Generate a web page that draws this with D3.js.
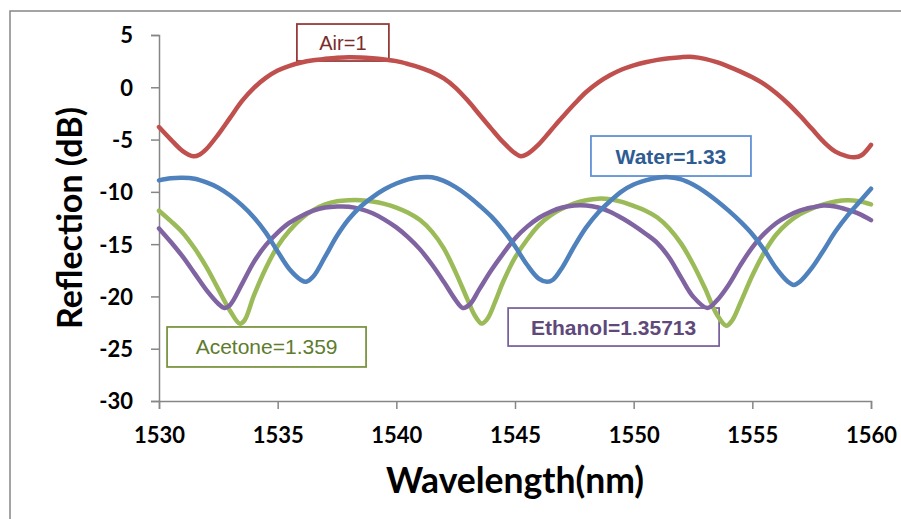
<!DOCTYPE html>
<html>
<head>
<meta charset="utf-8">
<script src="https://cdn.jsdelivr.net/npm/d3@7"></script>
<style>
  html, body { margin: 0; padding: 0; background: #fff; }
  svg { display: block; }
</style>
</head>
<body>
<svg id="chart" width="901" height="519"></svg>
<script>
// ---- data (wavelength nm, reflection dB) ----
const xTicks = [1530, 1535, 1540, 1545, 1550, 1555, 1560];
const yTicks = [5, 0, -5, -10, -15, -20, -25, -30];

const airData = [
  [1530,-3.8],[1530.5,-5.0],[1531,-6.1],[1531.45,-6.6],[1531.7,-6.45],[1532,-5.9],[1532.5,-4.5],
  [1533,-2.9],[1533.5,-1.3],[1534,-0.05],[1534.5,0.9],[1535,1.6],[1535.5,2.05],[1536,2.37],
  [1536.5,2.58],[1537,2.72],[1537.5,2.83],[1538,2.88],[1538.5,2.86],[1539,2.78],[1539.5,2.66],
  [1540,2.5],[1540.5,2.22],[1541,1.88],[1541.5,1.45],[1542,0.85],[1542.5,-0.05],[1543,-1.25],
  [1543.5,-2.6],[1544,-3.95],[1544.5,-5.25],[1545,-6.3],[1545.25,-6.6],[1545.5,-6.4],[1546,-5.45],
  [1546.5,-4.15],[1547,-2.85],[1547.5,-1.6],[1548,-0.45],[1548.5,0.45],[1549,1.15],[1549.5,1.7],
  [1550,2.1],[1550.5,2.4],[1551,2.62],[1551.5,2.78],[1552,2.88],[1552.5,2.9],[1553,2.72],
  [1553.5,2.4],[1554,1.98],[1554.5,1.5],[1555,0.95],[1555.5,0.3],[1556,-0.55],[1556.5,-1.55],
  [1557,-2.7],[1557.5,-3.95],[1558,-5.2],[1558.5,-6.15],[1559,-6.6],[1559.3,-6.7],[1559.6,-6.5],
  [1560,-5.5]
];

const waterData = [
  [1530,-8.9],[1530.5,-8.7],[1531,-8.65],[1531.5,-8.75],[1532,-9.1],[1532.5,-9.6],[1533,-10.35],
  [1533.5,-11.3],[1534,-12.45],[1534.5,-13.9],[1535,-15.7],[1535.5,-17.4],[1536,-18.45],
  [1536.2,-18.6],[1536.5,-18.1],[1537,-16.2],[1537.5,-14.2],[1538,-12.6],[1538.5,-11.4],
  [1539,-10.5],[1539.5,-9.75],[1540,-9.2],[1540.5,-8.8],[1541,-8.6],[1541.5,-8.6],[1542,-8.95],
  [1542.5,-9.55],[1543,-10.35],[1543.5,-11.3],[1544,-12.35],[1544.5,-13.65],[1545,-15.2],
  [1545.5,-16.95],[1546,-18.3],[1546.35,-18.6],[1546.6,-18.4],[1547,-17.2],[1547.5,-15.2],
  [1548,-13.4],[1548.5,-12.0],[1549,-10.9],[1549.5,-9.95],[1550,-9.3],[1550.5,-8.9],
  [1551,-8.65],[1551.5,-8.6],[1552,-8.8],[1552.5,-9.3],[1553,-10.0],[1553.5,-10.85],
  [1554,-11.8],[1554.5,-12.85],[1555,-14.05],[1555.5,-15.55],[1556,-17.3],[1556.5,-18.6],
  [1556.75,-18.9],[1557,-18.6],[1557.5,-17.3],[1558,-15.6],[1558.5,-13.8],[1559,-12.3],
  [1559.5,-11.0],[1560,-9.7]
];

const acetoneData = [
  [1530,-11.8],[1530.5,-12.8],[1531,-13.9],[1531.5,-15.4],[1532,-17.2],[1532.5,-19.3],
  [1533,-21.4],[1533.4,-22.6],[1533.6,-22.3],[1534,-19.9],[1534.5,-17.3],[1535,-15.2],
  [1535.5,-13.7],[1536,-12.55],[1536.5,-11.75],[1537,-11.2],[1537.5,-10.9],[1538,-10.8],
  [1538.5,-10.8],[1539,-10.92],[1539.5,-11.15],[1540,-11.5],[1540.5,-12.0],[1541,-12.7],
  [1541.5,-13.8],[1542,-15.4],[1542.5,-17.7],[1543,-20.3],[1543.3,-21.8],[1543.6,-22.6],
  [1543.85,-22.1],[1544.2,-20.3],[1544.5,-18.6],[1545,-16.3],[1545.5,-14.6],[1546,-13.2],
  [1546.5,-12.25],[1547,-11.6],[1547.5,-11.1],[1548,-10.8],[1548.5,-10.65],[1549,-10.7],
  [1549.5,-10.95],[1550,-11.35],[1550.5,-11.8],[1551,-12.45],[1551.5,-13.5],[1552,-14.95],
  [1552.5,-16.9],[1553,-19.2],[1553.5,-21.7],[1553.9,-22.8],[1554.15,-22.3],[1554.5,-20.6],
  [1555,-18.0],[1555.5,-15.8],[1556,-14.1],[1556.5,-12.95],[1557,-12.15],[1557.5,-11.6],
  [1558,-11.2],[1558.5,-10.92],[1559,-10.8],[1559.5,-10.9],[1560,-11.2]
];

const ethanolData = [
  [1530,-13.5],[1530.5,-14.8],[1531,-16.2],[1531.5,-17.8],[1532,-19.4],[1532.5,-20.7],
  [1532.75,-21.1],[1533,-20.8],[1533.5,-18.8],[1534,-16.7],[1534.5,-15.1],[1535,-13.9],
  [1535.5,-12.95],[1536,-12.3],[1536.5,-11.8],[1537,-11.5],[1537.5,-11.4],[1538,-11.42],
  [1538.5,-11.65],[1539,-12.05],[1539.5,-12.65],[1540,-13.4],[1540.5,-14.35],[1541,-15.5],
  [1541.5,-16.95],[1542,-18.6],[1542.5,-20.35],[1542.8,-21.1],[1543.1,-20.75],[1543.5,-19.3],
  [1544,-17.5],[1544.5,-15.9],[1545,-14.45],[1545.5,-13.35],[1546,-12.5],[1546.5,-11.9],
  [1547,-11.5],[1547.5,-11.3],[1548,-11.3],[1548.5,-11.5],[1549,-11.9],[1549.5,-12.5],
  [1550,-13.2],[1550.5,-14.0],[1551,-14.9],[1551.5,-16.3],[1552,-18.2],[1552.5,-20.0],
  [1553.1,-21.1],[1553.5,-20.4],[1554,-18.9],[1554.5,-17.0],[1555,-15.3],[1555.5,-14.0],
  [1556,-13.0],[1556.5,-12.3],[1557,-11.8],[1557.5,-11.5],[1558,-11.3],[1558.5,-11.4],
  [1559,-11.7],[1559.5,-12.1],[1560,-12.7]
];

const series = [
  { name: "Air=1",            data: airData,     color: "#C0504D" },
  { name: "Acetone=1.359",    data: acetoneData, color: "#9BBB59" },
  { name: "Ethanol=1.35713",  data: ethanolData, color: "#8064A2" },
  { name: "Water=1.33",       data: waterData,   color: "#4F81BD" }
];

const labels = [
  { text: "Air=1",           at: [1535.81, 6.05],  box: [92, 37],  stroke: "#953735", fill: "#7a2c2a", weight: "normal", size: 20 },
  { text: "Water=1.33",      at: [1548.2, -4.66],  box: [160, 40], stroke: "#5B8FD4", fill: "#2F5C93", weight: "bold",   size: 21 },
  { text: "Acetone=1.359",   at: [1530.34, -22.92], box: [199, 40], stroke: "#77933C", fill: "#5E7B2E", weight: "normal", size: 21 },
  { text: "Ethanol=1.35713", at: [1544.71, -21.11], box: [211, 38], stroke: "#7A609C", fill: "#5F497A", weight: "bold",   size: 21, clip: 29 }
];

// ---- layout ----
const svg = d3.select("#chart");
const x = d3.scaleLinear().domain([1530, 1560]).range([159, 871]);
const y = d3.scaleLinear().domain([-30, 5]).range([401, 35]);
const axisColor = "#868686";
const tickFont = "Lato, 'Open Sans', sans-serif";
const labelFont = "'Liberation Sans', Arial, sans-serif";

// outer chart frame
svg.append("rect")
  .attr("x", 10).attr("y", 11).attr("width", 1000).attr("height", 1000)
  .attr("fill", "none").attr("stroke", axisColor).attr("stroke-width", 1.5);

// y axis
const yAxis = svg.append("g").attr("transform", `translate(${x(1530)},0)`)
  .call(d3.axisLeft(y).tickValues(yTicks).tickSize(8).tickPadding(18).tickFormat(d3.format("d")));
yAxis.select(".domain").attr("stroke", axisColor).attr("stroke-width", 1.5);
yAxis.selectAll(".tick line").attr("stroke", axisColor).attr("stroke-width", 1.5);
yAxis.selectAll(".tick text")
  .attr("fill", "#000").attr("font-family", tickFont).attr("font-weight", "bold")
  .attr("font-size", 22).attr("dy", "0.36em")
  .text(d => d < 0 ? "-" + Math.abs(d) : d);

// x axis
const xAxis = svg.append("g").attr("transform", `translate(0,${y(-30)})`)
  .call(d3.axisBottom(x).tickValues(xTicks).tickSize(8).tickFormat(d3.format("d")));
xAxis.select(".domain").attr("stroke", axisColor).attr("stroke-width", 1.5);
xAxis.selectAll(".tick line").attr("stroke", axisColor).attr("stroke-width", 1.5);
xAxis.selectAll(".tick text")
  .attr("fill", "#000").attr("font-family", tickFont).attr("font-weight", "bold")
  .attr("font-size", 22).attr("y", 42).attr("dy", null);
svg.selectAll(".domain").attr("fill", "none");

// axis titles
svg.append("text")
  .attr("x", (x(1530) + x(1560)) / 2).attr("y", 493)
  .attr("text-anchor", "middle")
  .attr("font-family", tickFont).attr("font-weight", "bold").attr("font-size", 35.5)
  .attr("fill", "#000").text("Wavelength(nm)");

svg.append("text")
  .attr("transform", `translate(82,${(y(5) + y(-30)) / 2}) rotate(-90)`)
  .attr("text-anchor", "middle")
  .attr("font-family", tickFont).attr("font-weight", "bold").attr("font-size", 34)
  .attr("fill", "#000").text("Reflection (dB)");

// label boxes (under the curves)
const defs = svg.append("defs");
labels.forEach((l, i) => {
  const bx = x(l.at[0]), by = y(l.at[1]);
  const g = svg.append("g");
  g.append("rect")
    .attr("x", bx).attr("y", by).attr("width", l.box[0]).attr("height", l.box[1])
    .attr("fill", "#fff").attr("stroke", l.stroke).attr("stroke-width", 1.75);
  const capH = l.size * 0.716;
  const t = g.append("text")
    .attr("x", bx + l.box[0] / 2)
    .attr("y", by + l.box[1] / 2 + capH / 2)
    .attr("text-anchor", "middle")
    .attr("font-family", labelFont).attr("font-weight", l.weight)
    .attr("font-size", l.size).attr("fill", l.fill).text(l.text);
  if (l.clip) {
    defs.append("clipPath").attr("id", "clip" + i)
      .append("rect").attr("x", bx).attr("y", by).attr("width", l.box[0]).attr("height", l.clip);
    t.attr("clip-path", `url(#clip${i})`);
  }
});

// curves
const line = d3.line()
  .x(d => x(d[0])).y(d => y(d[1]))
  .curve(d3.curveCatmullRom.alpha(0.5));

svg.append("g").selectAll("path")
  .data(series).join("path")
  .attr("d", s => line(s.data))
  .attr("fill", "none")
  .attr("stroke", s => s.color)
  .attr("stroke-width", 4.5)
  .attr("stroke-linejoin", "round")
  .attr("stroke-linecap", "round");
</script>
</body>
</html>
